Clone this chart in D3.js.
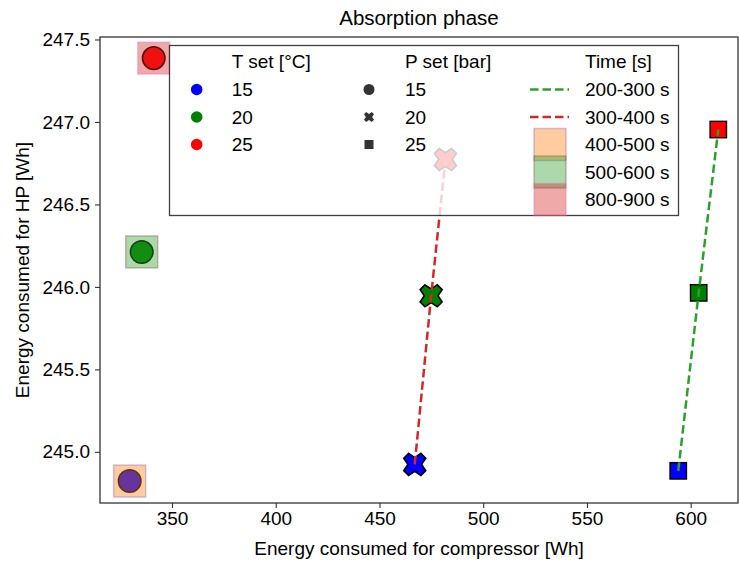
<!DOCTYPE html>
<html>
<head>
<meta charset="utf-8">
<script src="https://cdn.jsdelivr.net/npm/d3@7/dist/d3.min.js"></script>
<style>
  html, body { margin: 0; padding: 0; background: #fff; }
  svg { display: block; font-family: "Liberation Sans", Arial, sans-serif; }
</style>
</head>
<body>
<svg id="chart" width="739" height="561"></svg>
<script>
// ---------------- data ----------------
const tSetValues = [15, 20, 25];            // T set [°C]
const pSetValues = [15, 20, 25];            // P set [bar]
const timeLabels = ["200-300 s", "300-400 s", "400-500 s", "500-600 s", "800-900 s"];

// P set 15 bar (circles), ordered by T set 15, 20, 25
const p15Compressor = [329.6, 335.4, 341.2];
const p15HP = [244.823, 246.212, 247.387];
const p15Time = ["400-500 s", "500-600 s", "800-900 s"];

// P set 20 bar (crosses) - time window 300-400 s
const p20Compressor = [467.0, 474.9, 481.8];
const p20HP = [244.924, 245.946, 246.772];
const p20Time = "300-400 s";

// P set 25 bar (squares) - time window 200-300 s
const p25Compressor = [594.0, 603.85, 613.3];
const p25HP = [244.885, 245.964, 246.954];
const p25Time = "200-300 s";

const xTicks = [350, 400, 450, 500, 550, 600];
const yTicks = [245.0, 245.5, 246.0, 246.5, 247.0, 247.5];

// ---------------- styles ----------------
const tColor = { 15: "#0000ff", 20: "#008000", 25: "#ff0000" };
const timeColor = {
  "200-300 s": "#2ca02c", "300-400 s": "#d62728",
  "400-500 s": "#ff7f0e", "500-600 s": "#2ca02c", "800-900 s": "#d62728"
};
const timeEdge = { "400-500 s": "#9467bd", "500-600 s": "#8c564b", "800-900 s": "#e377c2" };

const svg = d3.select("#chart");
const m = { left: 100, right: 738, top: 37, bottom: 503 };

const x = d3.scaleLinear().domain([315.3, 622.8]).range([m.left, m.right]);
const y = d3.scaleLinear().domain([244.69, 247.515]).range([m.bottom, m.top]);

const FONT = 19;

function xPath(size) {
  // filled "X" marker like matplotlib's 'X'
  const s = size / 2, t = size * 0.22;
  const pts = [
    [-s + t, -s], [0, -t * 1.414], [s - t, -s], [s, -s + t], [t * 1.414, 0], [s, s - t],
    [s - t, s], [0, t * 1.414], [-s + t, s], [-s, s - t], [-t * 1.414, 0], [-s, -s + t]
  ];
  return "M" + pts.map(p => p.join(",")).join("L") + "Z";
}

const gData = svg.append("g");

// circles (P 15)
tSetValues.forEach((t, i) => {
  gData.append("circle")
    .attr("cx", x(p15Compressor[i])).attr("cy", y(p15HP[i])).attr("r", 11.3)
    .attr("fill", tColor[t]).attr("stroke", "#000").attr("stroke-width", 1.5);
});
// crosses (P 20)
tSetValues.forEach((t, i) => {
  gData.append("path")
    .attr("d", xPath(22))
    .attr("transform", `translate(${x(p20Compressor[i])},${y(p20HP[i])})`)
    .attr("fill", tColor[t]).attr("stroke", "#000").attr("stroke-width", 1.6)
    .attr("stroke-linejoin", "miter");
});
// squares (P 25)
tSetValues.forEach((t, i) => {
  gData.append("rect")
    .attr("x", x(p25Compressor[i]) - 8.2).attr("y", y(p25HP[i]) - 8.2)
    .attr("width", 16.4).attr("height", 16.4)
    .attr("fill", tColor[t]).attr("stroke", "#000").attr("stroke-width", 1.4);
});

// dashed lines
const line = d3.line().x(d => x(d[0])).y(d => y(d[1]));
gData.append("path")
  .attr("d", line(p25Compressor.map((v, i) => [v, p25HP[i]])))
  .attr("fill", "none").attr("stroke", timeColor[p25Time]).attr("stroke-width", 2.5)
  .attr("stroke-dasharray", "8.5,4");
gData.append("path")
  .attr("d", line(p20Compressor.map((v, i) => [v, p20HP[i]])))
  .attr("fill", "none").attr("stroke", timeColor[p20Time]).attr("stroke-width", 2.5)
  .attr("stroke-dasharray", "8.5,4");

// time-window squares over circles
p15Time.forEach((tl, i) => {
  gData.append("rect")
    .attr("x", x(p15Compressor[i]) - 16).attr("y", y(p15HP[i]) - 16)
    .attr("width", 32).attr("height", 32)
    .attr("fill", timeColor[tl]).attr("fill-opacity", 0.4)
    .attr("stroke", timeEdge[tl]).attr("stroke-opacity", 0.4).attr("stroke-width", 1.5);
});

// ---------------- axes ----------------
const spine = "#333";
const xAxis = d3.axisBottom(x).tickValues(xTicks).tickSize(5).tickPadding(4).tickFormat(d3.format("d"));
const yAxis = d3.axisLeft(y).tickValues(yTicks).tickSize(5).tickPadding(5).tickFormat(d3.format(".1f"));

const gx = svg.append("g").attr("transform", `translate(0,${m.bottom})`).call(xAxis);
const gy = svg.append("g").attr("transform", `translate(${m.left},0)`).call(yAxis);
[gx, gy].forEach(g => {
  g.select(".domain").remove();
  g.selectAll(".tick line").attr("stroke", spine).attr("stroke-width", 1.1);
  g.selectAll(".tick text").attr("fill", "#000").style("font-size", FONT + "px")
    .style("font-family", '"Liberation Sans", Arial, sans-serif');
});

// frame
svg.append("rect")
  .attr("x", m.left).attr("y", m.top)
  .attr("width", m.right - m.left).attr("height", m.bottom - m.top)
  .attr("fill", "none").attr("stroke", spine).attr("stroke-width", 1.3);

// labels
svg.append("text").attr("x", (m.left + m.right) / 2).attr("y", 25)
  .attr("text-anchor", "middle").style("font-size", "20.5px").text("Absorption phase");
svg.append("text").attr("x", (m.left + m.right) / 2).attr("y", 555)
  .attr("text-anchor", "middle").style("font-size", FONT + "px").text("Energy consumed for compressor [Wh]");
svg.append("text").attr("transform", `translate(29,${(m.top + m.bottom) / 2}) rotate(-90)`)
  .attr("text-anchor", "middle").style("font-size", FONT + "px").text("Energy consumed for HP [Wh]");

// ---------------- legend ----------------
const lg = svg.append("g");
lg.append("rect")
  .attr("x", 169.5).attr("y", 45.5).attr("width", 509).attr("height", 170)
  .attr("fill", "#fff").attr("fill-opacity", 0.8)
  .attr("stroke", "#000").attr("stroke-opacity", 0.75).attr("stroke-width", 1.3);

const rowY = [61.7, 89.5, 117, 144.5, 172, 199.5];
const col = [{ mk: 196.7, tx: 231.7 }, { mk: 369, tx: 405 }, { mk: 550, tx: 585 }];
function legText(c, r, s) {
  lg.append("text").attr("x", col[c].tx).attr("y", rowY[r]).attr("dy", "0.35em")
    .style("font-size", FONT + "px").text(s);
}
legText(0, 0, "T set [°C]");
tSetValues.forEach((t, i) => {
  lg.append("circle").attr("cx", col[0].mk).attr("cy", rowY[i + 1]).attr("r", 5.8).attr("fill", tColor[t]);
  legText(0, i + 1, String(t));
});
legText(1, 0, "P set [bar]");
pSetValues.forEach((p, i) => {
  const cx = col[1].mk, cy = rowY[i + 1];
  if (i === 0) lg.append("circle").attr("cx", cx).attr("cy", cy).attr("r", 5.5).attr("fill", "#333");
  if (i === 1) lg.append("path").attr("d", xPath(10)).attr("transform", `translate(${cx},${cy})`).attr("fill", "#333");
  if (i === 2) lg.append("rect").attr("x", cx - 4.5).attr("y", cy - 4.5).attr("width", 9).attr("height", 9).attr("fill", "#333");
  legText(1, i + 1, String(p));
});
legText(2, 0, "Time [s]");
timeLabels.forEach((tl, i) => {
  const cy = rowY[i + 1];
  if (i < 2) {
    lg.append("line").attr("x1", 530).attr("x2", 569).attr("y1", cy).attr("y2", cy)
      .attr("stroke", timeColor[tl]).attr("stroke-width", 2.5).attr("stroke-dasharray", "8.5,4");
  } else {
    lg.append("rect").attr("x", 534).attr("y", cy - 16).attr("width", 32).attr("height", 32)
      .attr("fill", timeColor[tl]).attr("fill-opacity", 0.4)
      .attr("stroke", timeEdge[tl]).attr("stroke-opacity", 0.4).attr("stroke-width", 1.5);
  }
  legText(2, i + 1, tl);
});
</script>
</body>
</html>
